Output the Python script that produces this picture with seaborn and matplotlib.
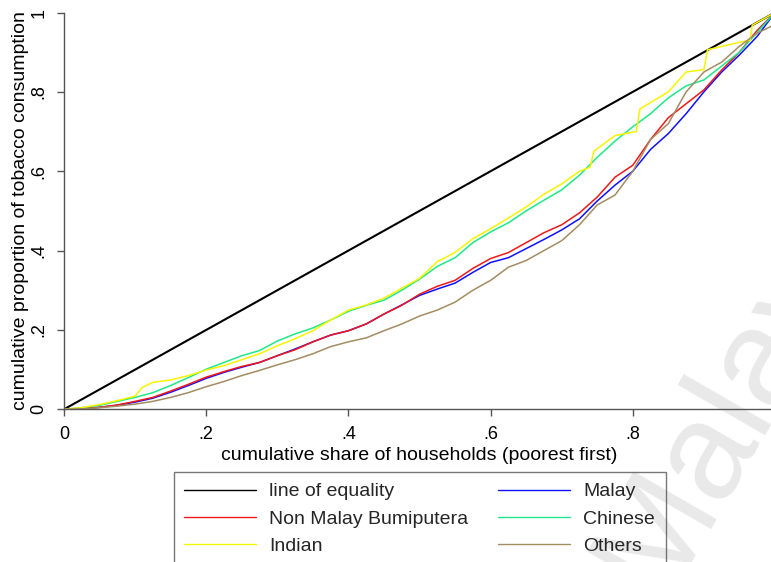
import matplotlib
matplotlib.use("Agg")
import matplotlib.pyplot as plt
import pandas as pd
import seaborn as sns
from matplotlib.lines import Line2D
from matplotlib.ticker import FixedLocator, FixedFormatter

# cumulative share of households (poorest first), common sampling points
share = [0, .025, .05, .075, .1, .125, .15, .175, .2, .225, .25, .275, .3, .325,
         .35, .375, .4, .425, .45, .475, .5, .525, .55, .575, .6, .625, .65,
         .675, .7, .725, .75, .775, .8, .825, .85, .875, .9, .925, .95, .975, 1]

# cumulative proportion of tobacco consumption by ethnic group
malay = [0, .002, .005, .01, .018, .028, .043, .06, .078, .093, .106, .118,
         .135, .152, .17, .187, .198, .215, .24, .263, .287, .303, .318, .345,
         .37, .382, .405, .428, .452, .48, .525, .565, .6, .655, .695, .745,
         .8, .85, .893, .94, 1]
non_malay_bumi = [0, .002, .005, .011, .02, .03, .046, .063, .081, .095, .108,
                  .118, .135, .15, .17, .187, .198, .215, .24, .262, .29, .31,
                  .325, .355, .38, .395, .42, .445, .465, .495, .535, .585,
                  .615, .68, .735, .77, .805, .855, .9, .955, 1]
chinese = [0, .004, .01, .02, .03, .042, .06, .08, .101, .118, .135, .148,
           .172, .19, .205, .225, .247, .262, .275, .3, .328, .36, .382, .42,
           .447, .47, .5, .527, .553, .59, .635, .676, .712, .745, .785, .815,
           .83, .865, .9, .95, 1]
others = [0, .001, .004, .008, .013, .02, .03, .042, .057, .07, .085, .098,
          .112, .125, .14, .158, .17, .18, .198, .215, .235, .25, .27, .3,
          .325, .358, .375, .4, .425, .465, .515, .54, .6, .68, .72, .8, .85,
          .875, .915, .948, .97]

# the Indian curve has a few visible jumps, so it keeps its own sample points
indian_share = [0, .025, .05, .075, .1, .11, .125, .15, .175, .2, .225, .25,
                .275, .3, .325, .35, .375, .4, .425, .45, .475, .5, .525, .55,
                .575, .6, .625, .65, .675, .7, .725, .74, .745, .775, .805,
                .81, .85, .875, .9, .905, .95, .965, .968, .99, 1]
indian = [0, .004, .012, .022, .033, .055, .068, .074, .085, .099, .11, .125,
          .14, .16, .178, .198, .225, .25, .263, .28, .305, .33, .372, .395,
          .43, .455, .482, .51, .542, .568, .6, .61, .65, .69, .70, .757, .80,
          .85, .856, .906, .925, .93, .968, .99, 1]

equality_share = [0, 1]
equality = [0, 1]

x_ticks = [0, .2, .4, .6, .8]
x_tick_labels = ["0", ".2", ".4", ".6", ".8"]
y_ticks = [0, .2, .4, .6, .8, 1]
y_tick_labels = ["0", ".2", ".4", ".6", ".8", "1"]

labels = {
    "equality": "line of equality",
    "malay": "Malay",
    "nmb": "Non Malay Bumiputera",
    "chinese": "Chinese",
    "indian": "Indian",
    "others": "Others",
}
colors = {
    "line of equality": "#000000",
    "Malay": "#1010ff",
    "Non Malay Bumiputera": "#f01818",
    "Chinese": "#1ee888",
    "Indian": "#f8f400",
    "Others": "#a48c62",
}

frames = [
    pd.DataFrame({"x": equality_share, "y": equality, "group": labels["equality"]}),
    pd.DataFrame({"x": share, "y": malay, "group": labels["malay"]}),
    pd.DataFrame({"x": share, "y": non_malay_bumi, "group": labels["nmb"]}),
    pd.DataFrame({"x": share, "y": chinese, "group": labels["chinese"]}),
    pd.DataFrame({"x": indian_share, "y": indian, "group": labels["indian"]}),
    pd.DataFrame({"x": share, "y": others, "group": labels["others"]}),
]
df = pd.concat(frames, ignore_index=True)

sns.set_theme(style="white")
plt.rcParams["font.family"] = ["Liberation Sans", "DejaVu Sans"]

W, H = 771, 562
FS = 14
TICK_FS = 13
fig = plt.figure(figsize=(W / 100, H / 100), dpi=100)
fig.patch.set_facecolor("white")
ax = fig.add_axes([64 / W, (H - 409.3) / H, 711 / W, 396.8 / H])
ax.set_zorder(1)
ax.patch.set_alpha(0.0)

sns.lineplot(data=df, x="x", y="y", hue="group", palette=colors,
             estimator=None, sort=False, legend=False, ax=ax, linewidth=1.1)
# make the equality line a bit heavier
ax.lines[0].set_linewidth(1.5)

ax.set_xlim(0, 1)
ax.set_ylim(0, 1)
for side in ("top", "right"):
    ax.spines[side].set_visible(False)
for side in ("left", "bottom"):
    ax.spines[side].set_color("#555555")
    ax.spines[side].set_linewidth(1.0)

ax.xaxis.set_major_locator(FixedLocator(x_ticks))
ax.xaxis.set_major_formatter(FixedFormatter(x_tick_labels))
ax.yaxis.set_major_locator(FixedLocator(y_ticks))
ax.yaxis.set_major_formatter(FixedFormatter(y_tick_labels))
ax.tick_params(axis="both", which="major", length=5, width=1, color="#555555",
               labelsize=TICK_FS, labelcolor="black", direction="out",
               bottom=True, left=True, pad=7)
for lab in ax.get_yticklabels():
    lab.set_rotation(90)
    lab.set_verticalalignment("center")
    lab.set_horizontalalignment("right")

ax.set_xlabel("cumulative share of households (poorest first)", fontsize=FS,
              color="black", labelpad=3)
ax.set_ylabel("cumulative proportion of tobacco consumption", fontsize=FS,
              color="black", labelpad=1)

order = ["line of equality", "Non Malay Bumiputera", "Indian",
         "Malay", "Chinese", "Others"]
handles = [Line2D([], [], color=colors[k], linewidth=1.0) for k in order]
leg = fig.legend(handles, order, ncol=2, loc="upper left",
                 bbox_to_anchor=(173.5 / W, 1 - 472 / H), frameon=True,
                 fancybox=False, edgecolor="#555555", facecolor="none",
                 fontsize=FS, handlelength=3.7, handletextpad=0.67,
                 columnspacing=1.55, labelspacing=0.5, borderpad=0.55,
                 borderaxespad=0)
leg.get_frame().set_linewidth(1.0)
leg.set_zorder(20)

# faint diagonal watermark at lower right, kept underneath axes and legend
fig.text(660 / W, 1 - 600 / H, "Malaysia", fontsize=100, color="#e9e9e9",
         rotation=60, rotation_mode="anchor", ha="left", va="baseline",
         zorder=-1)

fig.savefig("out.png", dpi=100, facecolor="white")
